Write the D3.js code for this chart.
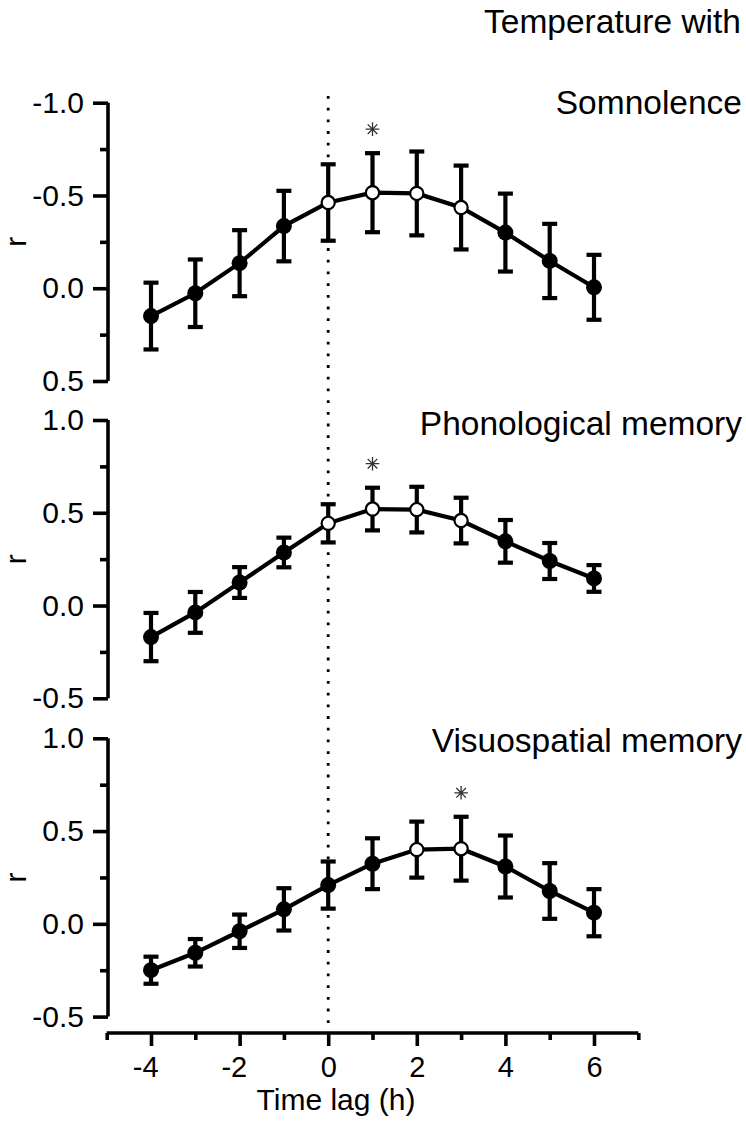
<!DOCTYPE html>
<html>
<head>
<meta charset="utf-8">
<script src="https://cdn.jsdelivr.net/npm/d3@7"></script>
<style>
  html, body { margin: 0; padding: 0; background: #fff; }
  svg { display: block; }
  text { font-family: "Liberation Sans", Arial, sans-serif; fill: #000; }
</style>
</head>
<body>
<svg id="chart" width="746" height="1125"></svg>
<script>
// ---- data ----
const lags = [-4, -3, -2, -1, 0, 1, 2, 3, 4, 5, 6];
const xTickLabels = [-4, -2, 0, 2, 4, 6];
const xMinorTicks = [-5, -3, -1, 1, 3, 5, 7];

const panelTitles = ["Somnolence", "Phonological memory", "Visuospatial memory"];
const headerTitle = "Temperature with";

const somnolence    = [0.150, 0.027, -0.135, -0.335, -0.462, -0.515, -0.511, -0.435, -0.300, -0.147, -0.005];
const somnolenceErr = [0.180, 0.182, 0.178, 0.190, 0.206, 0.213, 0.226, 0.226, 0.210, 0.200, 0.175];
const somnolenceOpen = [0, 1, 2, 3];
const somnolenceStar = [1];

const phonological    = [-0.170, -0.037, 0.124, 0.286, 0.443, 0.520, 0.517, 0.458, 0.346, 0.240, 0.146];
const phonologicalErr = [0.130, 0.110, 0.083, 0.080, 0.103, 0.115, 0.123, 0.123, 0.115, 0.097, 0.072];
const phonologicalOpen = [0, 1, 2, 3];
const phonologicalStar = [1];

const visuospatial    = [-0.250, -0.156, -0.040, 0.078, 0.209, 0.324, 0.400, 0.405, 0.309, 0.177, 0.060];
const visuospatialErr = [0.073, 0.074, 0.090, 0.114, 0.127, 0.137, 0.151, 0.172, 0.167, 0.150, 0.127];
const visuospatialOpen = [2, 3];
const visuospatialStar = [3];

const yDomains = [[-1, 0.5], [-0.5, 1], [-0.5, 1]];
const yInverted = [true, false, false];
const yMajorTicks = [[-1, -0.5, 0, 0.5], [-0.5, 0, 0.5, 1], [-0.5, 0, 0.5, 1]];
const yMinorTicks = [[-0.75, -0.25, 0.25], [-0.25, 0.25, 0.75], [-0.25, 0.25, 0.75]];

const panels = [
  { values: somnolence, err: somnolenceErr, open: somnolenceOpen, star: somnolenceStar },
  { values: phonological, err: phonologicalErr, open: phonologicalOpen, star: phonologicalStar },
  { values: visuospatial, err: visuospatialErr, open: visuospatialOpen, star: visuospatialStar }
];

// ---- layout ----
const axisX = 108;
const panelTops = [102.7, 420, 738.3];
const panelH = 278.3;
const xAxisY = 1033;

const svg = d3.select("#chart");

const x = d3.scaleLinear().domain([-5, 7]).range([106.7, 638.3]);

// dotted zero line
svg.append("line")
  .attr("x1", x(0)).attr("x2", x(0))
  .attr("y1", 96).attr("y2", xAxisY)
  .attr("stroke", "#000").attr("stroke-width", 2.8)
  .attr("stroke-dasharray", "2.8,8.9");

// header title
svg.append("text")
  .attr("x", 741).attr("y", 33)
  .attr("text-anchor", "end")
  .style("font-size", "33.5px")
  .text(headerTitle);

const fmt = v => v.toFixed(1);

panels.forEach((p, i) => {
  const top = panelTops[i], bottom = top + panelH;
  const y = d3.scaleLinear().domain(yDomains[i])
    .range(yInverted[i] ? [top, bottom] : [bottom, top]);

  const g = svg.append("g");

  // minor ticks
  const minorAxis = g.append("g").attr("transform", `translate(${axisX},0)`)
    .call(d3.axisLeft(y).tickValues(yMinorTicks[i]).tickSize(8).tickSizeOuter(0).tickFormat(""));
  minorAxis.select(".domain").remove();
  minorAxis.selectAll("line").attr("stroke", "#000").attr("stroke-width", 3.6);

  // major ticks + domain
  const majorAxis = g.append("g").attr("transform", `translate(${axisX},0)`)
    .call(d3.axisLeft(y).tickValues(yMajorTicks[i]).tickSize(15).tickSizeOuter(0).tickPadding(9).tickFormat(fmt));
  majorAxis.select(".domain").attr("stroke", "#000").attr("stroke-width", 3.6)
    .attr("d", `M0,${y.range()[0]}V${y.range()[1]}`);
  majorAxis.selectAll("line").attr("stroke", "#000").attr("stroke-width", 3.6);
  majorAxis.selectAll("text")
    .style("font-size", "30px")
    .style("font-family", '"Liberation Sans", Arial, sans-serif')
    .attr("fill", "#000");

  // r label
  svg.append("text")
    .attr("transform", `translate(26,${(top + bottom) / 2}) rotate(-90)`)
    .attr("text-anchor", "middle")
    .style("font-size", "30px")
    .text("r");

  // panel title
  svg.append("text")
    .attr("x", 742).attr("y", top + [11.6, 15, 14][i])
    .attr("text-anchor", "end")
    .style("font-size", "33.5px")
    .text(panelTitles[i]);

  const pts = lags.map((l, k) => ({ lag: l, v: p.values[k], e: p.err[k], open: p.open.includes(l) }));

  // error bars
  const eb = g.append("g").attr("stroke", "#000").attr("stroke-width", 4.2).attr("fill", "none");
  pts.forEach(d => {
    const cx = x(d.lag);
    const y1 = y(d.v - d.e), y2 = y(d.v + d.e);
    eb.append("line").attr("x1", cx).attr("x2", cx).attr("y1", y1).attr("y2", y2);
    eb.append("line").attr("x1", cx - 7.5).attr("x2", cx + 7.5).attr("y1", y1).attr("y2", y1);
    eb.append("line").attr("x1", cx - 7.5).attr("x2", cx + 7.5).attr("y1", y2).attr("y2", y2);
  });

  // line
  g.append("path")
    .datum(pts)
    .attr("fill", "none").attr("stroke", "#000").attr("stroke-width", 4.2)
    .attr("d", d3.line().x(d => x(d.lag)).y(d => y(d.v)));

  // markers
  g.selectAll("circle.m").data(pts).join("circle")
    .attr("class", "m")
    .attr("cx", d => x(d.lag)).attr("cy", d => y(d.v))
    .attr("r", d => d.open ? 6.6 : 8)
    .attr("fill", d => d.open ? "#fff" : "#000")
    .attr("stroke", "#000").attr("stroke-width", d => d.open ? 2.2 : 0);

  // asterisks
  p.star.forEach(l => {
    const k = lags.indexOf(l);
    const d = pts[k];
    const cx = x(l);
    const cy = Math.min(y(d.v - d.e), y(d.v + d.e)) - 24;
    const r = 6.8;
    let path = "";
    for (let a = 0; a < 4; a++) {
      const ang = a * Math.PI / 4;
      const dx = r * Math.cos(ang), dy = r * Math.sin(ang);
      path += `M${cx - dx},${cy - dy}L${cx + dx},${cy + dy}`;
    }
    svg.append("path").attr("d", path).attr("stroke", "#333").attr("stroke-width", 1.3).attr("fill", "none");
  });
});

// x axis
const xMinor = svg.append("g").attr("transform", `translate(0,${xAxisY})`)
  .call(d3.axisBottom(x).tickValues(xMinorTicks).tickSize(7).tickSizeOuter(0).tickFormat(""));
xMinor.select(".domain").remove();
xMinor.selectAll("line").attr("stroke", "#000").attr("stroke-width", 3.6);

const xMajor = svg.append("g").attr("transform", `translate(0,${xAxisY})`)
  .call(d3.axisBottom(x).tickValues(xTickLabels).tickSize(13).tickSizeOuter(0).tickPadding(10)
    .tickFormat(v => String(v)));
xMajor.select(".domain").attr("stroke", "#000").attr("stroke-width", 3.6)
  .attr("d", `M${x.range()[0]},0H${x.range()[1]}`);
xMajor.selectAll("line").attr("stroke", "#000").attr("stroke-width", 3.6);
xMajor.selectAll("text")
  .style("font-size", "29px")
  .style("font-family", '"Liberation Sans", Arial, sans-serif')
  .attr("fill", "#000")
  .attr("dx", d => d < 0 ? "-0.2em" : "0");

svg.append("text")
  .attr("x", 336).attr("y", 1110)
  .attr("text-anchor", "middle")
  .style("font-size", "30px")
  .text("Time lag (h)");
</script>
</body>
</html>
